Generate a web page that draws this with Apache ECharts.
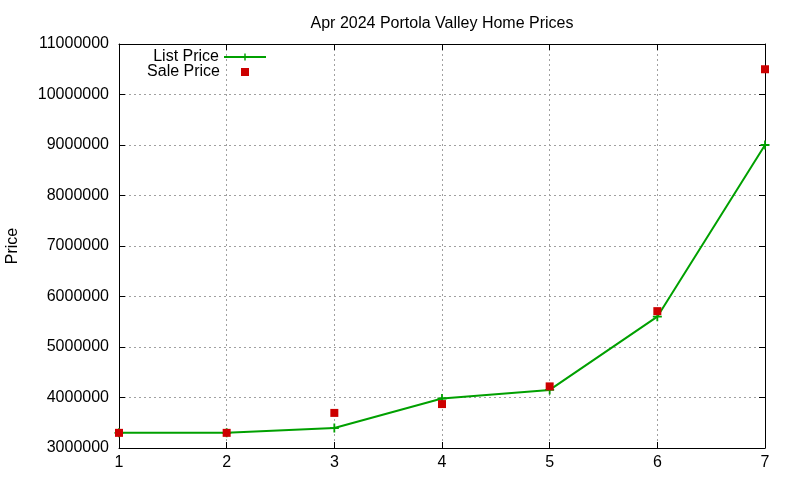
<!DOCTYPE html>
<html><head><meta charset="utf-8">
<script src="https://cdn.jsdelivr.net/npm/echarts@6/dist/echarts.min.js"></script>
<style>html,body{margin:0;padding:0;background:#fff}#c{width:800px;height:480px}</style>
</head><body><div id="c"></div>
<script>
const xValues = [1, 2, 3, 4, 5, 6, 7];
const listPrice = [3300000, 3300000, 3395000, 3980000, 4150000, 5600000, 9000000];
const salePrice = [3300000, 3300000, 3695000, 3870000, 4220000, 5710000, 10500000];
const yTicks = { min: 3000000, max: 11000000, interval: 1000000 };
const xTicks = { min: 1, max: 7, interval: 1 };

const FONT = 'Liberation Sans, Arial, sans-serif';
const FS = 16;
const plus = 'path://M3.2,0h1.6v3.2h3.2v1.6h-3.2v3.2h-1.6v-3.2h-3.2v-1.6h3.2z';
const legendSquare = 'path://M0,0M42,8M16,0h8v8h-8z';
const chart = echarts.init(document.getElementById('c'), null, {renderer: 'canvas'});
const grid = {left: 119, right: 35, top: 44, bottom: 32, containLabel: false, outerBoundsMode: 'none'};
const split = {show: true, lineStyle: {color: '#a0a0a0', type: [2, 3], width: 1}};
const txt = {fontFamily: FONT, fontSize: FS, color: '#000'};
chart.setOption({
  animation: false,
  backgroundColor: '#fff',
  textStyle: {fontFamily: FONT},
  title: {text: 'Apr 2024 Portola Valley Home Prices', left: 437, textAlign: 'center', top: 11,
    textStyle: Object.assign({fontWeight: 'normal'}, txt)},
  grid: grid,
  legend: [
    {data: ['List Price'], orient: 'vertical', align: 'right', right: 533, top: 49, padding: 0,
     itemWidth: 42, itemHeight: 9, textStyle: txt},
    {data: [{name: 'Sale Price', icon: legendSquare}], orient: 'vertical', align: 'right', right: 533, top: 64, padding: 0,
     itemWidth: 42, itemHeight: 8, symbolKeepAspect: false, textStyle: txt}
  ],
  xAxis: [
    {type: 'value', min: xTicks.min, max: xTicks.max, interval: xTicks.interval,
     axisLine: {lineStyle: {color: '#000', width: 1}}, axisTick: {inside: true, length: 6, lineStyle: {color: '#000'}},
     axisLabel: Object.assign({margin: 7}, txt), splitLine: split},
    {type: 'value', position: 'top', min: xTicks.min, max: xTicks.max, interval: xTicks.interval,
     axisLine: {show: true, lineStyle: {color: '#000', width: 1}}, axisTick: {show: true, inside: true, length: 6, lineStyle: {color: '#000'}},
     axisLabel: {show: false}, splitLine: {show: false}}
  ],
  yAxis: [
    {type: 'value', min: yTicks.min, max: yTicks.max, interval: yTicks.interval,
     name: 'Price', nameLocation: 'middle', nameGap: 98, nameRotate: 90,
     nameTextStyle: txt,
     axisLine: {show: true, lineStyle: {color: '#000', width: 1}}, axisTick: {show: true, inside: true, length: 6, lineStyle: {color: '#000'}},
     axisLabel: Object.assign({margin: 10, formatter: v => String(v)}, txt), splitLine: split},
    {type: 'value', position: 'right', min: yTicks.min, max: yTicks.max, interval: yTicks.interval,
     axisLine: {show: true, lineStyle: {color: '#000', width: 1}}, axisTick: {show: true, inside: true, length: 6, lineStyle: {color: '#000'}},
     axisLabel: {show: false}, splitLine: {show: false}}
  ],
  series: [
    {name: 'List Price', type: 'line', data: xValues.map((x, i) => [x, listPrice[i]]),
     symbol: plus, symbolSize: 9, showAllSymbol: true, clip: false,
     lineStyle: {color: '#00a000', width: 2}, itemStyle: {color: '#00a000'}, z: 2},
    {name: 'Sale Price', type: 'scatter', data: xValues.map((x, i) => [x, salePrice[i]]),
     symbol: 'rect', symbolSize: 8, clip: false, itemStyle: {color: '#cc0000', opacity: 1}, z: 3}
  ]
});
</script></body></html>
